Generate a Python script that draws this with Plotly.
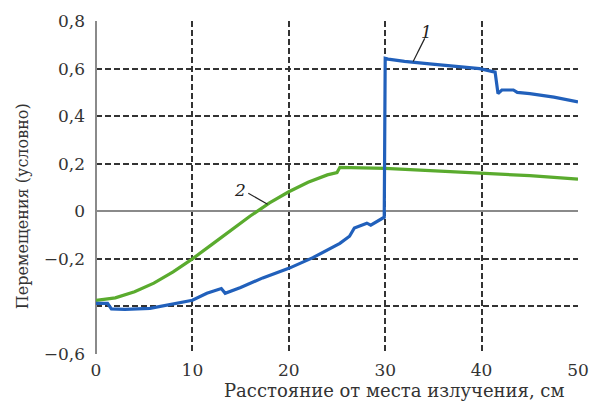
import plotly.graph_objects as go

# Curve 1 (blue)
blue_x = [0, 1.2, 1.6, 3, 5.6, 8, 10, 11.5, 13, 13.4, 15, 17.3, 20, 22.5, 25.3, 26.3, 26.8,
          28.1, 28.5, 29.9, 30.0, 30.3, 32, 34.6, 37, 39.8, 41.4, 41.7, 42.1, 43.3, 43.7,
          45, 47.5, 50]
blue_y = [-0.387, -0.387, -0.41, -0.412, -0.408, -0.39, -0.374, -0.345, -0.325, -0.345,
          -0.32, -0.28, -0.24, -0.195, -0.135, -0.105, -0.07, -0.05, -0.058, -0.025, 0.643,
          0.64, 0.63, 0.62, 0.61, 0.60, 0.585, 0.495, 0.51, 0.51, 0.50, 0.495, 0.48, 0.46]

# Curve 2 (green)
green_x = [0, 2, 4, 6, 8, 10, 12, 14, 16, 18, 20, 22, 24, 25, 25.3, 30, 35, 40, 45, 50]
green_y = [-0.375, -0.364, -0.338, -0.302, -0.255, -0.2, -0.14, -0.08, -0.02, 0.035,
           0.082, 0.122, 0.153, 0.163, 0.185, 0.18, 0.17, 0.16, 0.15, 0.135]

x_ticks = [0, 10, 20, 30, 40, 50]
x_labels = ["0", "10", "20", "30", "40", "50"]
y_ticks = [0.8, 0.6, 0.4, 0.2, 0, -0.2, -0.4, -0.6]
y_labels = ["0,8", "0,6", "0,4", "0,2", "0", "−0,2", "", "−0,6"]

x_title = "Расстояние от места излучения, см"
y_title = "Перемещения (условно)"

FONT = "DejaVu Serif"
GRID = "#333333"

fig = go.Figure()
fig.add_trace(go.Scatter(x=green_x, y=green_y, mode="lines",
                         line=dict(color="#5aab2e", width=3.2), showlegend=False))
fig.add_trace(go.Scatter(x=blue_x, y=blue_y, mode="lines",
                         line=dict(color="#2160bb", width=3.2), showlegend=False))

fig.update_xaxes(range=[0, 50], tickvals=x_ticks, ticktext=x_labels, automargin=False,
                 showgrid=True, gridcolor=GRID, gridwidth=2, griddash="6px,3px",
                 zeroline=True, zerolinecolor="#8a8a8a", zerolinewidth=1.5,
                 showline=False, ticks="", ticklabelstandoff=4,
                 tickfont=dict(family=FONT, size=17, color="#333"))
fig.update_yaxes(range=[-0.6, 0.8], tickvals=y_ticks, ticktext=y_labels, automargin=False,
                 showgrid=True, gridcolor=GRID, gridwidth=2, griddash="6px,3px",
                 zeroline=True, zerolinecolor="#8a8a8a", zerolinewidth=1.5,
                 showline=False, ticks="", ticklabelstandoff=10,
                 tickfont=dict(family=FONT, size=17, color="#333"))

fig.add_annotation(text=x_title, xref="paper", yref="paper", x=0.618, y=-0.111,
                   showarrow=False, xanchor="center", yanchor="middle",
                   font=dict(family=FONT, size=18, color="#333"))
fig.add_annotation(text=y_title, xref="paper", yref="paper", x=-0.1535, y=0.444,
                   showarrow=False, xanchor="center", yanchor="middle", textangle=-90,
                   font=dict(family=FONT, size=16, color="#333"))

fig.add_annotation(text="<i>1</i>", x=34.3, y=0.752, showarrow=False,
                   font=dict(family=FONT, size=17, color="#222"))
fig.add_annotation(text="<i>2</i>", x=14.9, y=0.088, showarrow=False,
                   font=dict(family=FONT, size=17, color="#222"))
fig.add_shape(type="line", x0=34.1, y0=0.727, x1=32.9, y1=0.63,
              line=dict(color="#222", width=1.2))
fig.add_shape(type="line", x0=15.8, y0=0.076, x1=17.8, y1=0.03,
              line=dict(color="#222", width=1.2))

# page body has an 8px default margin; compensate so the plot area lands where the reference has it
fig.update_layout(width=598, height=407, margin=dict(l=88, r=28, t=13, b=61, autoexpand=False),
                  plot_bgcolor="white", paper_bgcolor="white", showlegend=False)

fig.write_html("out.html")
